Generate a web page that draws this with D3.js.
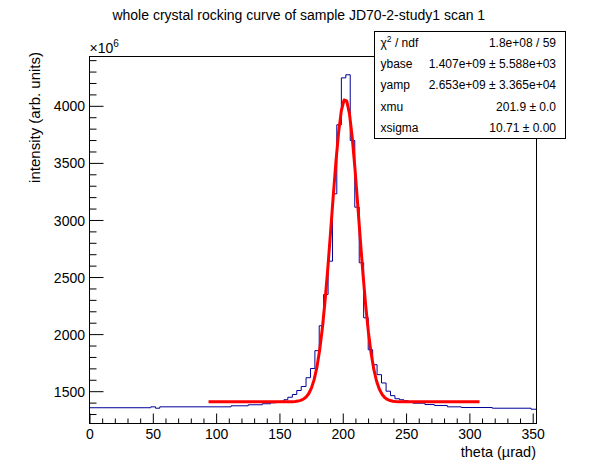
<!DOCTYPE html>
<html>
<head>
<meta charset="utf-8">
<script src="https://cdn.jsdelivr.net/npm/d3@7.9.0/dist/d3.min.js"></script>
<style>
  body { margin: 0; background: #fff; }
  svg { display: block; font-family: "Liberation Sans", Arial, sans-serif; }
</style>
</head>
<body>
<div id="vis"></div>
<script>
const width = 596, height = 472;

// histogram bin edges (theta, µrad) and contents (x10^6)
const binEdges = [0, 48.4, 52.1, 55.5, 111.8, 125.3, 136.4, 143.0, 146.9, 150.4,
  153.5, 156.6, 160.2, 163.7, 167.2, 171.0, 174.5, 178.0, 181.4, 184.9,
  188.4, 191.9, 195.3, 198.9, 202.4, 205.9, 209.5, 213.0, 216.5, 220.1,
  223.6, 227.1, 230.6, 234.2, 237.7, 241.2, 244.8, 248.3, 251.8, 255.4,
  264.9, 272.3, 282.6, 293.6, 318.1, 348.7, 353];
const binCounts = [1355, 1363, 1351, 1363, 1372, 1381, 1390, 1398, 1405, 1412,
  1425, 1447, 1471, 1506, 1541, 1618, 1699, 1855, 2073, 2347,
  2639, 3229, 3834, 4245, 4272, 3696, 3112, 2625, 2143, 1863,
  1732, 1645, 1572, 1500, 1461, 1434, 1425, 1416, 1405, 1395,
  1383, 1375, 1363, 1357, 1351, 1342];

// fit result shown in the stats box (y in units of 10^6)
const fitNames = ["ybase", "yamp", "xmu", "xsigma"];
const fitValues = [1407, 2653, 201.9, 10.71];
const fitRange = [94, 308];
const fitNpx = 100;

const statsLabels = ["χ2 / ndf", "ybase", "yamp", "xmu", "xsigma"];
const statsValues = ["1.8e+08 / 59", "1.407e+09 ± 5.588e+03", "2.653e+09 ± 3.365e+04",
  "201.9 ± 0.0", "10.71 ± 0.00"];

const xMajor = [0, 50, 100, 150, 200, 250, 300, 350];
const yMajor = [1500, 2000, 2500, 3000, 3500, 4000];

const frame = { left: 89.5, right: 536.5, top: 56.5, bottom: 423.5 };

const svg = d3.select("#vis").append("svg")
    .attr("width", width)
    .attr("height", height)
    .attr("viewBox", `0 0 ${width} ${height}`);

svg.append("rect").attr("width", width).attr("height", height).attr("fill", "#fff");

const x = d3.scaleLinear().domain([0, 353]).range([frame.left, frame.right]);
const y = d3.scaleLinear().domain([1217, 4432]).range([frame.bottom, frame.top]);

svg.append("clipPath").attr("id", "clip")
  .append("rect")
    .attr("x", frame.left).attr("y", frame.top)
    .attr("width", frame.right - frame.left).attr("height", frame.bottom - frame.top);

// axes (ROOT style: ticks point into the frame)
const xMinor = d3.range(0, 351, 10).filter(v => v % 50 !== 0);
const yMinor = d3.range(1300, 4401, 100).filter(v => v % 500 !== 0);

const gx = svg.append("g").attr("transform", `translate(0,${frame.bottom})`);
gx.call(d3.axisBottom(x).tickValues(xMajor).tickFormat(d3.format("d"))
    .tickSizeInner(-10).tickSizeOuter(0).tickPadding(6));
gx.append("g").call(d3.axisBottom(x).tickValues(xMinor).tickFormat("").tickSizeInner(-5).tickSizeOuter(0));

const gy = svg.append("g").attr("transform", `translate(${frame.left},0)`);
gy.call(d3.axisLeft(y).tickValues(yMajor).tickFormat(d3.format("d"))
    .tickSizeInner(-14).tickSizeOuter(0).tickPadding(4.5));
gy.append("g").call(d3.axisLeft(y).tickValues(yMinor).tickFormat("").tickSizeInner(-7).tickSizeOuter(0));

svg.selectAll(".domain").remove();
svg.selectAll(".tick line").attr("stroke", "#000");
svg.selectAll(".tick text")
    .attr("fill", "#000")
    .style("font-size", "14px")
    .style("font-family", "'Liberation Sans', Arial, sans-serif");
gy.selectAll(".tick text").attr("dy", "0.36em");

// histogram
const g = svg.append("g").attr("clip-path", "url(#clip)");
let d = `M${x(binEdges[0])},${y(binCounts[0])}`;
binCounts.forEach((c, i) => {
  if (i > 0) d += `V${y(c)}`;
  d += `H${x(binEdges[i + 1])}`;
});
g.append("path")
    .attr("d", d)
    .attr("fill", "none")
    .attr("stroke", "#000099")
    .attr("stroke-width", 1);

// fitted gaussian
const [ybase, yamp, xmu, xsigma] = fitValues;
const fitX = d3.range(fitNpx + 1).map(i => fitRange[0] + i * (fitRange[1] - fitRange[0]) / fitNpx);
const line = d3.line()
    .x(v => x(v))
    .y(v => y(ybase + yamp * Math.exp(-0.5 * ((v - xmu) / xsigma) ** 2)));
g.append("path")
    .attr("d", line(fitX))
    .attr("fill", "none")
    .attr("stroke", "#ff0000")
    .attr("stroke-width", 3)
    .attr("stroke-linejoin", "round");

// frame
svg.append("rect")
    .attr("x", frame.left).attr("y", frame.top)
    .attr("width", frame.right - frame.left).attr("height", frame.bottom - frame.top)
    .attr("fill", "none").attr("stroke", "#000");

// exponent
const expo = svg.append("text")
    .attr("x", frame.left).attr("y", 53)
    .style("font-size", "14px");
expo.append("tspan").text("×10");
expo.append("tspan").attr("dy", -6).style("font-size", "10px").text("6");

// titles
svg.append("text")
    .attr("x", 298.8).attr("y", 20)
    .attr("text-anchor", "middle")
    .style("font-size", "14px")
    .text("whole crystal rocking curve of sample JD70-2-study1 scan 1");

svg.append("text")
    .attr("transform", "translate(40,52) rotate(-90)")
    .attr("text-anchor", "end")
    .style("font-size", "15px")
    .text("intensity (arb. units)");

svg.append("text")
    .attr("x", 536).attr("y", 457)
    .attr("text-anchor", "end")
    .style("font-size", "14.5px")
    .text("theta (µrad)");

// stats box
const box = { x: 374.5, y: 31.5, w: 191, h: 107 };
svg.append("rect")
    .attr("x", box.x).attr("y", box.y).attr("width", box.w).attr("height", box.h)
    .attr("fill", "#fff").attr("stroke", "#000");

const rowH = box.h / statsLabels.length;
statsLabels.forEach((lab, i) => {
  const by = box.y + rowH * (i + 0.5) + 4.3;
  const t = svg.append("text").attr("x", box.x + 6).attr("y", by).style("font-size", "12px");
  if (i === 0) {
    t.append("tspan").text("χ");
    t.append("tspan").attr("dy", -5).style("font-size", "8.5px").text("2");
    t.append("tspan").attr("dy", 5).text(" / ndf");
  } else {
    t.text(lab);
  }
  svg.append("text")
      .attr("x", box.x + box.w - 9.5).attr("y", by)
      .attr("text-anchor", "end")
      .style("font-size", "12px")
      .text(statsValues[i]);
});
</script>
</body>
</html>
